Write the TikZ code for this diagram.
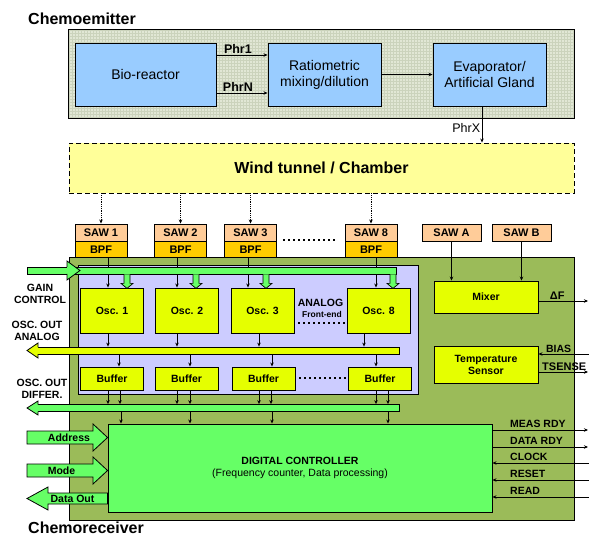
\documentclass[tikz,border=0pt]{standalone}
\usepackage{fontspec}
\setmainfont{Liberation Sans}
\usetikzlibrary{arrows.meta,positioning}
\definecolor{gridbg}{HTML}{E1E7D5}
\definecolor{gridln}{HTML}{CBD3BC}
\definecolor{bioblue}{HTML}{99CCFF}
\definecolor{tunnel}{HTML}{FFFF99}
\definecolor{sawc}{HTML}{FFCC99}
\definecolor{bpfc}{HTML}{FFCC00}
\definecolor{recv}{HTML}{9BBB59}
\definecolor{afec}{HTML}{CCCCFF}
\definecolor{lime}{HTML}{E5FF00}
\definecolor{bgreen}{HTML}{66FF66}
\tikzset{
  blk/.style={draw=black,line width=0.9pt,inner sep=0pt,align=center},
  ebox/.style={blk,fill=bioblue,minimum width=113pt,minimum height=63pt,
    font=\fontsize{14}{16}\selectfont},
  sawbox/.style={blk,fill=sawc,minimum width=52pt,minimum height=17pt,
    font=\fontsize{11}{13}\selectfont\bfseries},
  bpfbox/.style={sawbox,fill=bpfc,minimum height=16pt},
  oscbox/.style={blk,fill=lime,minimum width=63pt,minimum height=45pt,
    font=\fontsize{10.5}{12}\selectfont\bfseries},
  bufbox/.style={oscbox,minimum height=23pt},
  bar/.style={draw=black,line width=0.8pt,inner sep=0pt,minimum height=7pt,fill=bgreen},
  sig/.style={-{Stealth[length=4pt,width=3.5pt]},line width=0.8pt},
  dsig/.style={sig,densely dotted},
  gdn/.style={draw=black,line width=0.7pt,fill=bgreen},
  barrow/.style={draw=black,line width=0.8pt,fill=bgreen},
  lbl/.style={font=\fontsize{10.5}{12.5}\selectfont\bfseries,align=center,inner sep=1pt},
  phr/.style={font=\fontsize{12.5}{15}\selectfont\bfseries,inner sep=1.5pt},
  dots/.style={line width=2pt,dash pattern=on 2pt off 3pt},
  title/.style={font=\fontsize{16}{19}\selectfont\bfseries,anchor=west,inner sep=0pt},
}
\newcommand{\gaindown}[1]{\draw[gdn] (gbus.south -| #1,0) ++(-3,0) -- ++(0,9) -- ++(-3,0)
  -- ++(6,5) -- ++(6,-5) -- ++(-3,0) -- ++(0,-9);}
\begin{document}
\begin{tikzpicture}[x=1pt,y=-1pt]
  \useasboundingbox (0,0) rectangle (589,537);
  \node[title] (tem) at (28,19) {Chemoemitter};
  \node[title] (tre) at (28,528) {Chemoreceiver};
  % chemoemitter
  \node[blk,fill=gridbg,minimum width=505pt,minimum height=88pt] (emit) at (321.5,74) {};
  \begin{scope}
    \clip (emit.south west) rectangle (emit.north east);
    \draw[gridln,line width=0.25pt,step=3pt] (emit.south west) grid (emit.north east);
  \end{scope}
  \draw[line width=0.9pt] (emit.south west) rectangle (emit.north east);
  \node[ebox,minimum width=141pt] (bio) at (145.5,74.5) {Bio-reactor};
  \node[ebox] (mix) at (324.5,74.5) {Ratiometric\\mixing/dilution};
  \node[ebox] (evap) at (489.5,74.5) {Evaporator/\\Artificial Gland};
  \node[blk,dashed,dash pattern=on 5pt off 3pt,fill=tunnel,minimum width=505pt,minimum height=50pt,
    font=\fontsize{16}{19}\selectfont\bfseries] (tun) at (321.5,168) {Wind tunnel / Chamber};
  \draw[sig] (bio.east |- 0,55) -- node[phr,above,pos=0.42]{Phr1} (mix.west |- 0,55);
  \draw[sig] (bio.east |- 0,93) -- node[phr,above,pos=0.42]{PhrN} (mix.west |- 0,93);
  \draw[sig] (mix) -- (evap);
  \draw[sig] (evap.south -| 482,0) -- node[phr,left,pos=0.6,font=\fontsize{12.5}{15}\selectfont]{PhrX} (tun.north -| 482,0);
  % chemoreceiver
  \node[blk,fill=recv,minimum width=505pt,minimum height=263pt] (recv) at (321.5,388.5) {};
  \node[blk,fill=afec,minimum width=340pt,minimum height=129pt] (afe) at (248,329.5) {};
  \node[sawbox] (saw1) at (101,232.5) {SAW 1}; \node[bpfbox,below=0pt of saw1] (bpf1) {BPF};
  \node[sawbox] (saw2) at (180.5,232.5) {SAW 2}; \node[bpfbox,below=0pt of saw2] (bpf2) {BPF};
  \node[sawbox] (saw3) at (250.5,232.5) {SAW 3}; \node[bpfbox,below=0pt of saw3] (bpf3) {BPF};
  \node[sawbox] (saw8) at (371,232.5) {SAW 8}; \node[bpfbox,below=0pt of saw8] (bpf8) {BPF};
  \node[sawbox,minimum width=59pt] (sawa) at (451.5,232.5) {SAW A};
  \node[sawbox,minimum width=59pt] (sawb) at (521.5,232.5) {SAW B};
  \draw[dsig] (tun.south -| saw1) -- (saw1); \draw[dsig] (tun.south -| saw2) -- (saw2);
  \draw[dsig] (tun.south -| saw3) -- (saw3); \draw[dsig] (tun.south -| saw8) -- (saw8);
  \draw[dots] (283,240) -- (336,240);
  % oscillators and buffers
  \node[oscbox] (osc1) at (112,310.5) {Osc. 1}; \node[oscbox] (osc2) at (187,310.5) {Osc. 2};
  \node[oscbox] (osc3) at (262.5,310.5) {Osc. 3}; \node[oscbox] (osc8) at (378.5,310.5) {Osc. 8};
  \node[bufbox] (buf1) at (112,378.5) {Buffer}; \node[bufbox] (buf2) at (186.5,378.5) {Buffer};
  \node[bufbox] (buf3) at (263.5,378.5) {Buffer}; \node[bufbox] (buf8) at (380,378.5) {Buffer};
  \node[lbl,inner sep=0pt] (anl) at (320.5,303) {ANALOG};
  \node[font=\fontsize{8.5}{10}\selectfont\bfseries,inner sep=0pt] (fe) at (322,314) {Front-end};
  \draw[dots] (298,323) -- (345,323); \draw[dots] (299,378) -- (347,378);
  \node[oscbox,minimum width=104pt,minimum height=32pt] (mixr) at (486,297) {Mixer};
  \node[oscbox,minimum width=104pt,minimum height=37pt] (temp) at (486,364.5) {Temperature\\Sensor};
  \node[blk,fill=bgreen,minimum width=384pt,minimum height=88pt,
    font=\fontsize{10.5}{12.5}\selectfont] (dc) at (300,468) {\textbf{DIGITAL CONTROLLER}\\(Frequency counter, Data processing)};
  \draw[sig] (bpf1.south -| 108,0) -- (osc1.north -| 108,0); \draw[sig] (bpf2.south -| 177,0) -- (osc2.north -| 177,0);
  \draw[sig] (bpf3.south -| 248,0) -- (osc3.north -| 248,0); \draw[sig] (bpf8.south -| 376,0) -- (osc8.north -| 376,0);
  % buses
  \node[bar,minimum width=369pt] (gbus) at (211.5,270.5) {};
  \draw[barrow] (67,267) -- (67,261) -- (80,270.5) -- (67,280) -- (67,274);
  \node[bar,fill=lime,minimum width=363pt] (abus) at (217.5,350.5) {};
  \draw[barrow,fill=lime] (38,347) -- (38,343) -- (27,350.5) -- (38,358) -- (38,354);
  \node[bar,minimum width=363pt] (dbus) at (217.5,408) {};
  \draw[barrow] (38,404.5) -- (38,401) -- (27,408) -- (38,415) -- (38,411.5);
  \gaindown{127} \gaindown{196} \gaindown{266} \gaindown{393}
  \draw[sig] (osc1.south -| 108,0) -- (abus.north -| 108,0); \draw[sig] (osc2.south -| 177,0) -- (abus.north -| 177,0);
  \draw[sig] (osc3.south -| 259,0) -- (abus.north -| 259,0); \draw[sig] (osc8.south -| 364,0) -- (abus.north -| 364,0);
  \draw[sig] (abus.south -| 119,0) -- (buf1.north -| 119,0); \draw[sig] (abus.south -| 190,0) -- (buf2.north -| 190,0);
  \draw[sig] (abus.south -| 272,0) -- (buf3.north -| 272,0); \draw[sig] (abus.south -| 376,0) -- (buf8.north -| 376,0);
  \draw[sig] (buf1.south -| 108,0) -- (dbus.north -| 108,0); \draw[sig] (buf1.south -| 120,0) -- (dbus.north -| 120,0);
  \draw[sig] (buf2.south -| 177,0) -- (dbus.north -| 177,0); \draw[sig] (buf2.south -| 190,0) -- (dbus.north -| 190,0);
  \draw[sig] (buf3.south -| 259,0) -- (dbus.north -| 259,0); \draw[sig] (buf3.south -| 271,0) -- (dbus.north -| 271,0);
  \draw[sig] (buf8.south -| 376,0) -- (dbus.north -| 376,0); \draw[sig] (buf8.south -| 388,0) -- (dbus.north -| 388,0);
  \draw[sig] (dbus.south -| 121,0) -- (dc.north -| 121,0); \draw[sig] (dbus.south -| 190,0) -- (dc.north -| 190,0);
  \draw[sig] (dbus.south -| 272,0) -- (dc.north -| 272,0); \draw[sig] (dbus.south -| 388,0) -- (dc.north -| 388,0);
  \node[lbl] (gain) at (40,294) {GAIN\\CONTROL};
  \node[lbl] (oana) at (37,331) {OSC. OUT\\ANALOG};
  \node[lbl] (odif) at (42,389) {OSC. OUT\\DIFFER.};
  % digital controller ports
  \draw[barrow] (27,431) -- (93,431) -- (93,424) -- (dc.west |- 0,437.5) -- (93,451) -- (93,444) -- (27,444) -- cycle;
  \draw[barrow] (27,464) -- (93,464) -- (93,457) -- (dc.west |- 0,470.5) -- (93,484) -- (93,477) -- (27,477) -- cycle;
  \draw[barrow] (dc.west |- 0,493) -- (48,493) -- (48,487) -- (27,498.5) -- (48,510) -- (48,504) -- (dc.west |- 0,504) -- cycle;
  \node[lbl] (addr) at (69,438) {Address};
  \node[lbl] (mode) at (61.5,471) {Mode};
  \node[lbl] (dout) at (72.5,499) {Data Out};
  \coordinate (measo) at (588,430); \coordinate (datao) at (588,447);
  \coordinate (clki) at (589,463); \coordinate (rsti) at (589,480); \coordinate (rdi) at (589,497);
  \draw[sig] (dc.east |- measo) -- (measo); \draw[sig] (dc.east |- datao) -- (datao);
  \draw[sig] (clki) -- (dc.east |- clki); \draw[sig] (rsti) -- (dc.east |- rsti); \draw[sig] (rdi) -- (dc.east |- rdi);
  \node[lbl,anchor=south west] (lmeas) at (509,429) {MEAS RDY};
  \node[lbl,anchor=south west] (ldata) at (509,446) {DATA RDY};
  \node[lbl,anchor=south west] (lclk) at (509,462) {CLOCK};
  \node[lbl,anchor=south west] (lrst) at (509,479) {RESET};
  \node[lbl,anchor=south west] (lrd) at (509,496) {READ};
  % mixer and sensor
  \draw[sig] (sawa) -- (mixr.north -| sawa); \draw[sig] (sawb) -- (mixr.north -| sawb);
  \coordinate (dfo) at (588,301); \coordinate (biasi) at (589,354); \coordinate (tso) at (588,372);
  \draw[sig] (mixr.east |- dfo) -- node[lbl,above,pos=0.38,font=\fontsize{11}{13}\selectfont\bfseries]{ΔF} (dfo);
  \draw[sig] (biasi) -- node[lbl,above,pos=0.6]{BIAS} (temp.east |- biasi);
  \draw[sig] (temp.east |- tso) -- node[lbl,above,pos=0.52,font=\fontsize{11}{13}\selectfont\bfseries]{TSENSE} (tso);
\end{tikzpicture}
\end{document}
